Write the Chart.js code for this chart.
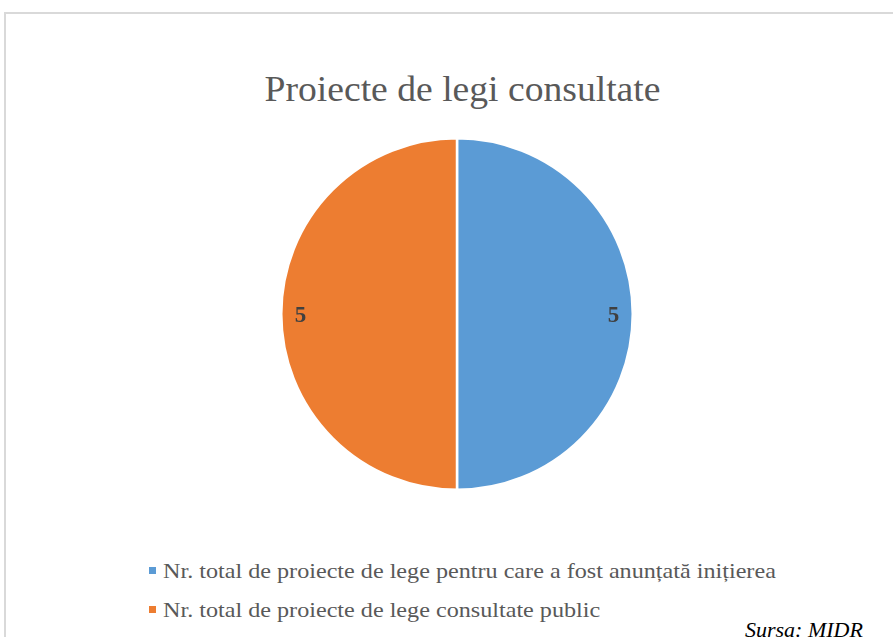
<!DOCTYPE html>
<html>
<head>
<meta charset="utf-8">
<script src="https://cdn.jsdelivr.net/npm/chart.js@4/dist/chart.umd.min.js"></script>
<style>
  html, body { margin:0; padding:0; background:#fff; width:893px; height:637px; overflow:hidden; }
  #frame { position:absolute; left:4px; top:12px; width:1000px; height:700px; border-top:2px solid #d9d9d9; border-left:2px solid #d9d9d9; box-sizing:border-box; }
  #title { position:absolute; left:0; width:925px; top:68px; text-align:center; font-family:"Liberation Serif", serif; font-size:36px; color:#595959; white-space:nowrap; transform:scaleX(1.045); transform-origin:462px 0; }
  #chartbox { position:absolute; left:280px; top:137px; width:354px; height:354px; }
  #legend { position:absolute; left:149px; top:558px; font-family:"Liberation Serif", serif; font-size:21px; color:#595959; }
  .item { height:39px; line-height:26px; white-space:nowrap; }
  .sw { display:inline-block; width:7px; height:7px; margin-right:7px; vertical-align:4px; }
  .tx { display:inline-block; transform:scaleX(1.15); transform-origin:0 0; }
  #source { position:absolute; left:745px; top:617px; font-family:"Liberation Serif", serif; font-style:italic; font-size:22px; color:#000; white-space:nowrap; }
</style>
</head>
<body>
<div id="frame"></div>
<div id="title"></div>
<div id="chartbox"><canvas id="c"></canvas></div>
<div id="legend"></div>
<div id="source">Sursa: MIDR</div>
<script>
const chartTitle = "Proiecte de legi consultate";
const categories = [
  "Nr. total de proiecte de lege pentru care a fost anunțată inițierea",
  "Nr. total de proiecte de lege consultate public"
];
const values = [5, 5];
const colors = ["#5b9bd5", "#ed7d31"];

document.getElementById('title').textContent = chartTitle;
const legend = document.getElementById('legend');
categories.forEach((c, i) => {
  const d = document.createElement('div');
  d.className = 'item';
  const s = document.createElement('span');
  s.className = 'sw';
  s.style.background = colors[i];
  d.appendChild(s);
  const t = document.createElement('span');
  t.className = 'tx';
  t.textContent = c;
  d.appendChild(t);
  legend.appendChild(d);
});

const labelPlugin = {
  id: 'pieLabels',
  afterDatasetsDraw(chart) {
    const ctx = chart.ctx;
    const meta = chart.getDatasetMeta(0);
    ctx.save();
    ctx.font = 'bold 23px "Liberation Serif", serif';
    ctx.fillStyle = '#404040';
    ctx.textAlign = 'center';
    ctx.textBaseline = 'middle';
    meta.data.forEach((arc, i) => {
      const p = arc.getProps(['x','y','startAngle','endAngle','outerRadius'], true);
      const mid = (p.startAngle + p.endAngle) / 2;
      const r = p.outerRadius * 0.89;
      ctx.fillText(String(values[i]), p.x + Math.cos(mid) * r, p.y + Math.sin(mid) * r + 2);
    });
    ctx.restore();
  }
};

new Chart(document.getElementById('c'), {
  type: 'pie',
  data: {
    labels: categories,
    datasets: [{
      data: values,
      backgroundColor: colors,
      borderColor: '#ffffff',
      borderWidth: 2.5
    }]
  },
  options: {
    responsive: true,
    maintainAspectRatio: false,
    animation: false,
    layout: { padding: 0 },
    plugins: { legend: { display: false }, tooltip: { enabled: false }, title: { display: false } }
  },
  plugins: [labelPlugin]
});
</script>
</body>
</html>
